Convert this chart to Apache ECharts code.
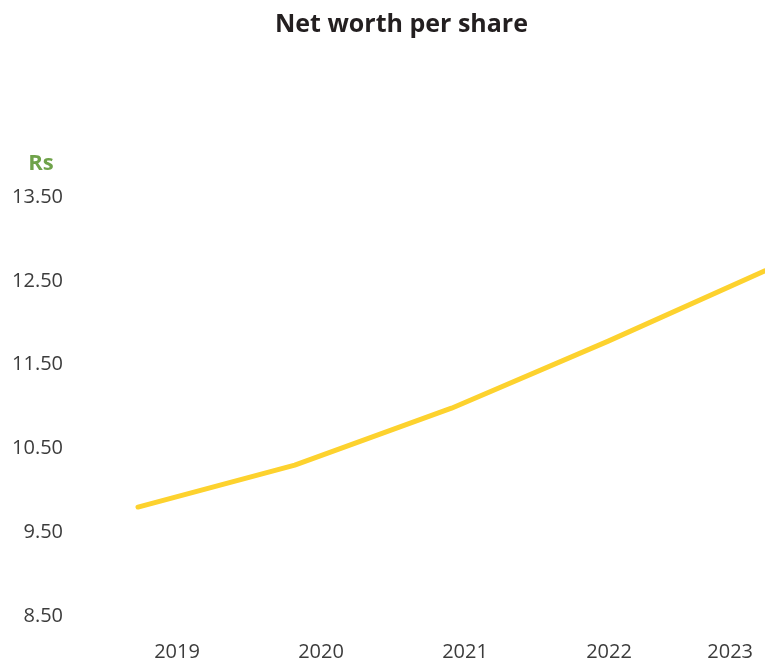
<!DOCTYPE html>
<html>
<head>
<meta charset="utf-8">
<script src="https://cdn.jsdelivr.net/npm/echarts@6/dist/echarts.min.js"></script>
<style>html,body{margin:0;padding:0;background:#fff;}#c{width:765px;height:663px;}</style>
</head>
<body>
<div id="c"></div>
<script>
var years = ['2019', '2020', '2021', '2022', '2023'];
var netWorthPerShare = [9.80, 10.30, 10.98, 11.78, 12.62];
var yMin = 8.5, yMax = 13.5, yStep = 0.5;

var chart = echarts.init(document.getElementById('c'));
var labelFont = { fontFamily: 'Open Sans', fontSize: 20, color: '#3c3c3c', fontWeight: 'normal' };
chart.setOption({
  animation: false,
  title: {
    text: 'Net worth per share', left: 270, top: 7,
    textStyle: { fontFamily: 'Open Sans', fontWeight: 'bold', fontSize: 25, color: '#231f20' }
  },
  grid: [
    { left: 138, right: 0, top: 197, bottom: 47 },
    { left: 177, right: 12, top: 197, bottom: 47 }
  ],
  xAxis: [
    { type: 'category', gridIndex: 0, data: years, boundaryGap: false, show: false },
    { type: 'category', gridIndex: 1, data: years, boundaryGap: false,
      axisLine: { show: false }, axisTick: { show: false }, splitLine: { show: false },
      axisLabel: Object.assign({ margin: 26, alignMaxLabel: 'right' }, labelFont) }
  ],
  yAxis: [
    { type: 'value', gridIndex: 0, min: yMin, max: yMax, interval: yStep,
      name: 'Rs', nameLocation: 'end', nameGap: 22,
      nameTextStyle: { fontFamily: 'Open Sans', fontWeight: 'bold', fontSize: 22, color: '#6fa24a', align: 'center', padding: [0, 0, 0, -194] },
      axisLine: { show: false }, axisTick: { show: false }, splitLine: { show: false },
      axisLabel: Object.assign({ margin: 75, formatter: function (v) {
        return Math.abs(v - Math.round(v)) < 1e-6 ? '' : v.toFixed(2);
      } }, labelFont) },
    { type: 'value', gridIndex: 1, min: yMin, max: yMax, show: false }
  ],
  series: [{
    type: 'line', xAxisIndex: 0, yAxisIndex: 0, data: netWorthPerShare,
    symbol: 'none', clip: false,
    lineStyle: { color: '#fdd22e', width: 5, cap: 'round', join: 'round' }
  }]
});
</script>
</body>
</html>
